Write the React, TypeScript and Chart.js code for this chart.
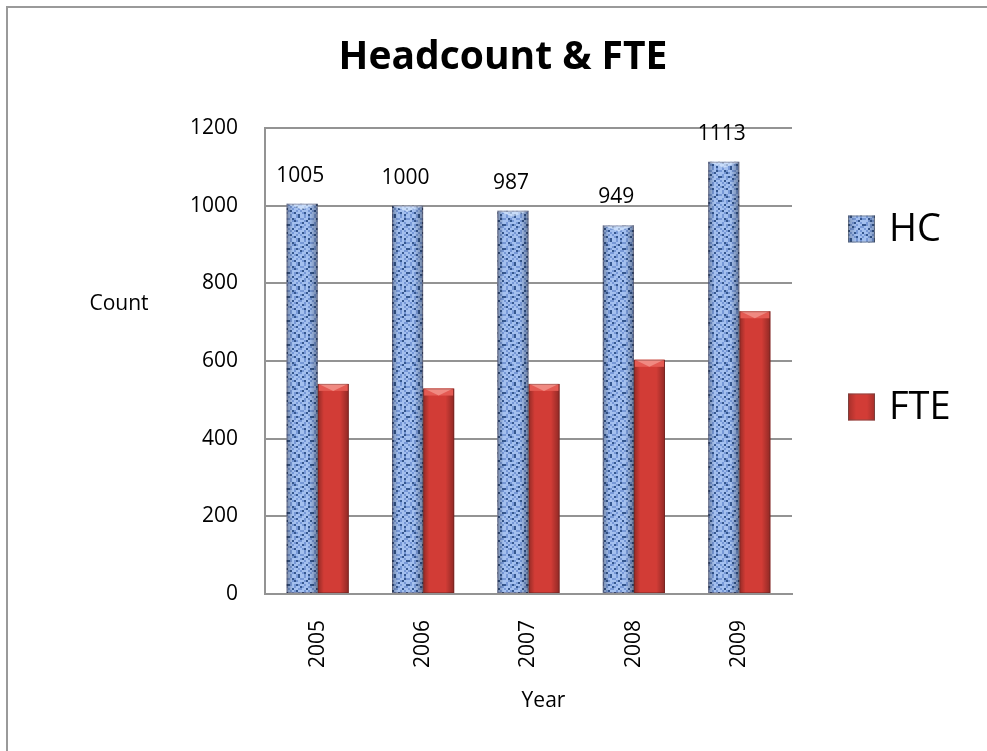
import React, { useEffect, useRef } from "react";
import { Chart, registerables } from "chart.js";

Chart.register(...registerables);

const years = ["2005", "2006", "2007", "2008", "2009"];
const hcValues = [1005, 1000, 987, 949, 1113];
const fteValues = [541, 529, 541, 603, 728];
const seriesLabels = ["HC", "FTE"];
const yTicksMax = 1200;
const yTickStep = 200;
const chartTitle = "Headcount & FTE";
const yAxisTitle = "Count";
const xAxisTitle = "Year";

const FONT = "'Open Sans', sans-serif";

const tileRows = [
  "LMLLMDLLMLML",
  "MLDMLLMMLLDM",
  "LLMDMLLLMDLL",
  "LMLLLLMDLLML",
  "DMLMDMLLMLLD",
  "LLLMLLDMLLMM",
  "MLDLLMMLLDLL",
  "LMLMDLLLMLML",
  "LLMLLMLDMLLD",
  "MDLLMLMLLLML",
  "LLMDLLLMDLLM",
  "LMLLMDLLMLDL",
];
const tileColors: Record<string, string> = { L: "#a4c0ef", M: "#7798d6", D: "#35578f" };

function makePattern(ctx: CanvasRenderingContext2D): CanvasPattern | string {
  const c = document.createElement("canvas");
  const cell = 2;
  c.width = tileRows[0].length * cell;
  c.height = tileRows.length * cell;
  const t = c.getContext("2d");
  if (!t) return "#7a9ad6";
  tileRows.forEach((row, r) => {
    row.split("").forEach((ch, k) => {
      t.fillStyle = tileColors[ch];
      t.fillRect(k * cell, r * cell, cell, cell);
    });
  });
  return ctx.createPattern(c, "repeat") || "#7a9ad6";
}

export default function App() {
  const ref = useRef<HTMLCanvasElement | null>(null);

  useEffect(() => {
    const canvas = ref.current;
    if (!canvas) return;
    const ctx = canvas.getContext("2d");
    if (!ctx) return;
    const pattern = makePattern(ctx);

    const decor = {
      id: "decor",
      beforeDraw(chart: any) {
        const c = chart.ctx;
        c.save();
        c.fillStyle = "#ffffff";
        c.fillRect(0, 0, chart.width, chart.height);
        c.fillStyle = "#9a9a9a";
        c.fillRect(6, 6, chart.width - 6, 2);
        c.fillRect(6, 6, 2, chart.height - 6);
        c.restore();
      },
      afterDatasetsDraw(chart: any) {
        const c = chart.ctx;
        c.save();
        chart.data.datasets.forEach((ds: any, di: number) => {
          const meta = chart.getDatasetMeta(di);
          meta.data.forEach((bar: any, i: number) => {
            const x0 = bar.x - bar.width / 2;
            const x1 = bar.x + bar.width / 2;
            const top = bar.y;
            const base = bar.base;
            const g = c.createLinearGradient(x0, 0, x1, 0);
            g.addColorStop(0, "rgba(0,0,0,0.3)");
            g.addColorStop(0.2, "rgba(0,0,0,0.0)");
            g.addColorStop(0.72, "rgba(0,0,0,0.0)");
            g.addColorStop(1, "rgba(0,0,0,0.32)");
            c.fillStyle = g;
            c.fillRect(x0, top, x1 - x0, base - top);
            if (di === 1) {
              c.fillStyle = "#e45a53";
              c.fillRect(x0 + 1, top, x1 - x0 - 2, 7);
              c.fillStyle = "#f08a82";
              c.beginPath();
              c.moveTo(x0 + 1, top);
              c.lineTo(x1 - 1, top);
              c.lineTo(bar.x, top + 7);
              c.closePath();
              c.fill();
            } else {
              c.fillStyle = "rgba(225,238,255,0.6)";
              c.beginPath();
              c.moveTo(x0, top);
              c.lineTo(x1, top);
              c.lineTo(bar.x, top + 6);
              c.closePath();
              c.fill();
              c.fillStyle = "#000";
              c.font = `21px ${FONT}`;
              c.textAlign = "center";
              c.textBaseline = "middle";
              c.fillText(String(ds.data[i]), bar.x - 2, top - 28);
            }
            c.strokeStyle = "rgba(60,30,30,0.3)";
            c.lineWidth = 1;
            c.strokeRect(x0 + 0.5, top + 0.5, x1 - x0 - 1, base - top - 1);
          });
        });
        c.restore();
      },
      afterDraw(chart: any) {
        const c = chart.ctx;
        const area = chart.chartArea;
        c.save();
        c.fillStyle = "#000";
        c.textAlign = "center";
        c.textBaseline = "middle";
        c.font = `bold 39px ${FONT}`;
        c.fillText(chartTitle, 503, 58);
        c.font = `21px ${FONT}`;
        c.fillText(yAxisTitle, 119, 304);
        c.fillText(xAxisTitle, (area.left + area.right) / 2 + 15, 701);
        // legend
        const legendY = [229, 407];
        chart.data.datasets.forEach((ds: any, di: number) => {
          const cy = legendY[di];
          const bx = 848;
          const size = 27;
          c.fillStyle = di === 0 ? pattern : "#d23c36";
          c.fillRect(bx, cy - size / 2, size, size);
          const g = c.createLinearGradient(bx, 0, bx + size, 0);
          g.addColorStop(0, "rgba(0,0,0,0.22)");
          g.addColorStop(0.3, "rgba(0,0,0,0)");
          g.addColorStop(0.7, "rgba(0,0,0,0)");
          g.addColorStop(1, "rgba(0,0,0,0.22)");
          c.fillStyle = g;
          c.fillRect(bx, cy - size / 2, size, size);
          c.strokeStyle = "rgba(80,80,80,0.5)";
          c.strokeRect(bx + 0.5, cy - size / 2 + 0.5, size - 1, size - 1);
          c.fillStyle = "#000";
          c.textAlign = "left";
          c.font = `38px ${FONT}`;
          c.fillText(ds.label, 889, cy + 1);
        });
        c.restore();
      },
    };

    const chart = new Chart(canvas, {
      type: "bar",
      data: {
        labels: years,
        datasets: [
          {
            label: seriesLabels[0],
            data: hcValues,
            backgroundColor: pattern as any,
            borderWidth: 0,
            categoryPercentage: 0.59,
            barPercentage: 1,
          },
          {
            label: seriesLabels[1],
            data: fteValues,
            backgroundColor: "#d23c36",
            borderWidth: 0,
            categoryPercentage: 0.59,
            barPercentage: 1,
          },
        ],
      },
      options: {
        responsive: false,
        animation: false,
        layout: { padding: { top: 128, right: 195, bottom: 0, left: 0 } },
        plugins: {
          legend: { display: false },
          title: { display: false },
          tooltip: { enabled: false },
        },
        scales: {
          x: {
            afterFit: (scale: any) => {
              scale.height = 157;
            },
            grid: { display: false, drawTicks: false },
            border: { display: true, color: "#939393", width: 2 },
            ticks: {
              color: "#000",
              font: { family: FONT, size: 21 },
              minRotation: 90,
              maxRotation: 90,
              padding: 26,
            },
          },
          y: {
            min: 0,
            max: yTicksMax,
            afterFit: (scale: any) => {
              scale.width = 265;
            },
            grid: { color: "#939393", lineWidth: 2, drawTicks: false },
            border: { display: true, color: "#939393", width: 2 },
            ticks: {
              stepSize: yTickStep,
              color: "#000",
              font: { family: FONT, size: 21 },
              padding: 27,
              callback: (v: any) => String(v),
            },
          },
        },
      },
      plugins: [decor],
    });

    return () => chart.destroy();
  }, []);

  return (
    <div style={{ position: "absolute", left: 0, top: 0, width: 987, height: 751 }}>
      <canvas ref={ref} width={987} height={751} style={{ display: "block" }} />
    </div>
  );
}
